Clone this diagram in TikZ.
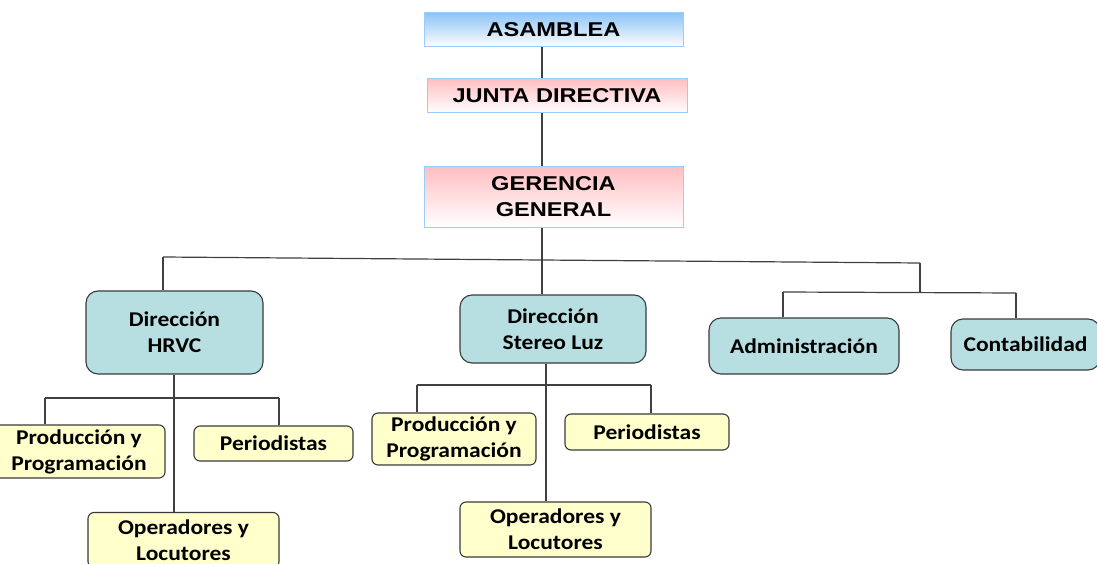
\documentclass[tikz,border=0pt]{standalone}
\usepackage{fontspec}
\newfontfamily\topfont[FakeStretch=1.18]{Liberation Sans}
\newfontfamily\lowfont[FakeStretch=1.12]{Carlito}
\definecolor{tealfill}{HTML}{B7DEE1}
\definecolor{yelfill}{HTML}{FFFFCC}
\definecolor{bord}{HTML}{3A3A3A}
\definecolor{lblue}{HTML}{99CCFF}
\definecolor{topblue}{HTML}{8EC4F6}
\definecolor{toppink}{HTML}{FFBFC2}
\definecolor{linec}{HTML}{404040}
\tikzset{
  topbox/.style={draw=lblue, line width=1pt, inner sep=0pt, align=center,
    font=\topfont\bfseries\fontsize{20}{26}\selectfont, text=black},
  bluebox/.style={topbox, top color=topblue, bottom color=white},
  pinkbox/.style={topbox, top color=toppink, bottom color=white},
  tealbox/.style={draw=bord, line width=1.1pt, fill=tealfill, rounded corners=12pt,
    inner sep=0pt, align=center, font=\lowfont\bfseries\fontsize{21}{26}\selectfont},
  yelbox/.style={draw=bord, line width=1.1pt, fill=yelfill, rounded corners=6pt,
    inner sep=0pt, align=center, font=\lowfont\bfseries\fontsize{21}{26}\selectfont},
  conn/.style={draw=linec, line width=1.2pt}
}
\begin{document}
\begin{tikzpicture}[x=1pt,y=-1pt]
\useasboundingbox (0,0) rectangle (1097,564);
% top
\node[bluebox, minimum width=259pt, minimum height=34pt] (asam) at (553.5,30) {ASAMBLEA};
\node[pinkbox, minimum width=260pt, minimum height=34pt] (junta) at (557,96) {JUNTA DIRECTIVA};
\node[pinkbox, minimum width=259pt, minimum height=60pt] (ger) at (553.5,197) {GERENCIA\\GENERAL};
% level 2
\node[tealbox, minimum width=177pt, minimum height=83pt] (hrvc) at (174.5,332.5) {Dirección\\HRVC};
\node[tealbox, minimum width=186pt, minimum height=68pt] (stereo) at (553,329) {Dirección\\Stereo Luz};
\node[tealbox, minimum width=190pt, minimum height=56pt] (admin) at (804,346) {Administración};
\node[tealbox, minimum width=149pt, minimum height=51pt] (conta) at (1025.5,344.5) {Contabilidad};
% level 3
\node[yelbox, minimum width=172pt, minimum height=53pt] (prod1) at (79,451.5) {Producción y\\Programación};
\node[yelbox, minimum width=159pt, minimum height=35pt] (peri1) at (273.5,443.5) {Periodistas};
\node[yelbox, minimum width=191pt, minimum height=55pt] (oper1) at (183.5,540) {Operadores y\\Locutores};
\node[yelbox, minimum width=164pt, minimum height=52pt] (prod2) at (454,439) {Producción y\\Programación};
\node[yelbox, minimum width=164pt, minimum height=36pt] (peri2) at (647,432) {Periodistas};
\node[yelbox, minimum width=191pt, minimum height=55pt] (oper2) at (555.5,529.5) {Operadores y\\Locutores};
% bus coordinates
\coordinate (busL) at (163,257);
\coordinate (busM) at (542,260);
\coordinate (busR) at (920,263);
\coordinate (subM) at (920,292.5);
\coordinate (subL) at (783,292);
\coordinate (subR) at (1016,293);
\coordinate (h1L) at (45,398);
\coordinate (h1M) at (174,398);
\coordinate (h1R) at (279,398);
\coordinate (h2L) at (417,385);
\coordinate (h2M) at (546,385);
\coordinate (h2R) at (651,385);
% connectors
\draw[conn] (542,0 |- asam.south) -- (542,0 |- junta.north);
\draw[conn] (542,0 |- junta.south) -- (542,0 |- ger.north);
\draw[conn] (542,0 |- ger.south) -- (busM);
\draw[conn] (busL) -- (busR);
\draw[conn] (busL) -- (busL |- hrvc.north);
\draw[conn] (busM) -- (busM |- stereo.north);
\draw[conn] (busR) -- (subM);
\draw[conn] (subL) -- (subR);
\draw[conn] (subL) -- (subL |- admin.north);
\draw[conn] (subR) -- (subR |- conta.north);
\draw[conn] (h1M |- hrvc.south) -- (h1M |- oper1.north);
\draw[conn] (h1L) -- (h1R);
\draw[conn] (h1L) -- (h1L |- prod1.north);
\draw[conn] (h1R) -- (h1R |- peri1.north);
\draw[conn] (h2M |- stereo.south) -- (h2M |- oper2.north);
\draw[conn] (h2L) -- (h2R);
\draw[conn] (h2L) -- (h2L |- prod2.north);
\draw[conn] (h2R) -- (h2R |- peri2.north);
\end{tikzpicture}
\end{document}
